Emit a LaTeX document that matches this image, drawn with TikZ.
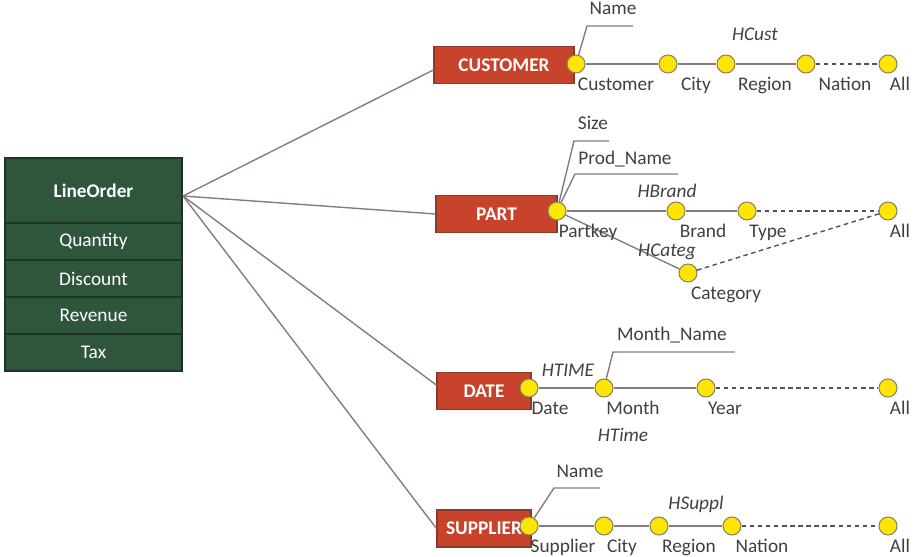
\documentclass[tikz,border=0pt]{standalone}
\usepackage{fontspec}
\setmainfont{Carlito}
\usepackage{tikz}
\usetikzlibrary{positioning}
\usepackage{xcolor}
\definecolor{factgreen}{HTML}{2F553C}
\definecolor{factline}{HTML}{1E3526}
\definecolor{dimred}{HTML}{C8432B}
\definecolor{dimline}{HTML}{8A3A28}
\definecolor{lvlyellow}{HTML}{FFE600}
\definecolor{lvlline}{HTML}{8C8060}
\definecolor{relgray}{HTML}{877C7C}
\definecolor{txtgray}{HTML}{404040}

\begin{document}
\begin{tikzpicture}[x=0.02cm, y=-0.02cm,
    fact/.style={draw=factline, line width=0.8pt, fill=factgreen, text=white,
      minimum width=3.54cm, minimum height=0.74cm, inner sep=0pt,
      font=\fontsize{11}{13}\selectfont},
    dim/.style={draw=dimline, line width=0.6pt, fill=dimred, text=white,
      minimum height=0.74cm, inner sep=0pt,
      font=\fontsize{11}{13}\selectfont\bfseries},
    lvl/.style={circle, draw=lvlline, line width=0.6pt, fill=lvlyellow,
      minimum size=0.36cm, inner sep=0pt},
    lab/.style={anchor=base, text=txtgray, inner sep=0pt,
      font=\fontsize{11}{13}\selectfont},
    hier/.style={lab, font=\fontsize{11}{13}\selectfont\itshape},
    rel/.style={draw=relgray, line width=0.8pt},
    rollup/.style={rel, draw=txtgray!90, dash pattern=on 2.6pt off 2pt}]

        \useasboundingbox (0,0) rectangle (914,557);

        % Fact table (left)
        \node[fact, minimum height=1.3cm, font=\fontsize{11}{13}\selectfont\bfseries] (lo) at (93.5,190.5) {LineOrder};
        \node[fact] (qty) at (93.5,241.5) {Quantity};
        \node[fact] (disc) at (93.5,278.5) {Discount};
        \node[fact] (rev) at (93.5,315.5) {Revenue};
        \node[fact] (tax) at (93.5,352.5) {Tax};
        \coordinate (hub) at (183,196);

        % Dimensions
        \node[dim, minimum width=2.8cm] (cust) at (504,65) {CUSTOMER};
        \node[dim, minimum width=2.42cm] (part) at (496.5,214) {PART};
        \node[dim, minimum width=1.88cm] (date) at (484,391) {DATE};
        \node[dim, minimum width=1.88cm] (supp) at (484,528.5) {SUPPLIER};

        \draw[rel] (hub) -- (cust.184);
        \draw[rel] (hub) -- (part.west);
        \draw[rel] (hub) -- (date.173);
        \draw[rel] (hub) -- (supp.west);


        % Customer hierarchy (top)
        \node[lvl] (cK) at (576,64) {};
        \node[lvl] (cCity) at (668,64) {};
        \node[lvl] (cReg) at (726,64) {};
        \node[lvl] (cNat) at (806,64) {};
        \node[lvl] (cAll) at (888,64) {};

        \draw[rel] (cK) -- (cCity) -- (cReg) -- (cNat);
        \draw[rollup] (cNat) -- (cAll);

        \node[lab] (lcK) at (616,91) {Customer};
        \node[lab] (lcCity) at (696,91) {City};
        \node[lab] (lcReg) at (765,91) {Region};
        \node[lab] (lcNat) at (845,91) {Nation};
        \node[lab] (lcAll) at (900,91) {All};
        \node[hier] (hCust) at (755,41) {HCust};

        \node[lab] (cName) at (613,15) {Name};
        \coordinate (cnA) at (587,26);
        \coordinate (cnB) at (633,26);
        \draw[rel] (cK) -- (cnA) -- (cnB);


        % Part hierarchies
        \node[lvl] (pK) at (557,211) {};
        \node[lvl] (pBrand) at (676,211) {};
        \node[lvl] (pType) at (747,211) {};
        \node[lvl] (pAll) at (888,211) {};
        \node[lvl] (pCat) at (688,273) {};

        \draw[rel] (pK) -- (pBrand) -- (pType);
        \draw[rel] (pK) -- (pCat);
        \draw[rollup] (pType) -- (pAll);
        \draw[rollup] (pCat) -- (pAll);

        \node[lab] (lpK) at (588,238) {Partkey};
        \node[lab] (lpBrand) at (703,238) {Brand};
        \node[lab] (lpType) at (768,238) {Type};
        \node[lab] (lpAll) at (900,238) {All};
        \node[lab] (lpCat) at (726,300) {Category};
        \node[hier] (hBrand) at (667,198) {HBrand};
        \node[hier] (hCateg) at (667,257) {HCateg};

        \node[lab] (pSize) at (593,130) {Size};
        \coordinate (psA) at (574,141);
        \coordinate (psB) at (609,141);
        \draw[rel] (pK) -- (psA) -- (psB);
        \node[lab] (pName) at (625,165) {Prod\_Name};
        \coordinate (pnA) at (575,174);
        \coordinate (pnB) at (678,174);
        \draw[rel] (pK) -- (pnA) -- (pnB);


        % Date hierarchy
        \node[lvl] (dK) at (529,388) {};
        \node[lvl] (dMonth) at (604,388) {};
        \node[lvl] (dYear) at (706,388) {};
        \node[lvl] (dAll) at (888,388) {};

        \draw[rel] (dK) -- (dMonth) -- (dYear);
        \draw[rollup] (dYear) -- (dAll);

        \node[lab] (ldK) at (550,415) {Date};
        \node[lab] (ldMonth) at (633,415) {Month};
        \node[lab] (ldYear) at (725,415) {Year};
        \node[lab] (ldAll) at (900,415) {All};
        \node[hier] (hTIME) at (568,377) {HTIME};
        \node[hier] (hTime) at (623,442) {HTime};

        \node[lab] (dName) at (672,341) {Month\_Name};
        \coordinate (dnA) at (613,352);
        \coordinate (dnB) at (735,352);
        \draw[rel] (dMonth) -- (dnA) -- (dnB);


        % Supplier hierarchy (bottom)
        \node[lvl] (sK) at (529,526) {};
        \node[lvl] (sCity) at (604,526) {};
        \node[lvl] (sReg) at (659,526) {};
        \node[lvl] (sNat) at (732,526) {};
        \node[lvl] (sAll) at (888,526) {};

        \draw[rel] (sK) -- (sCity) -- (sReg) -- (sNat);
        \draw[rollup] (sNat) -- (sAll);

        \node[lab] (lsK) at (563,553) {Supplier};
        \node[lab] (lsCity) at (622,553) {City};
        \node[lab] (lsReg) at (689,553) {Region};
        \node[lab] (lsNat) at (762,553) {Nation};
        \node[lab] (lsAll) at (900,553) {All};
        \node[hier] (hSuppl) at (696,510) {HSuppl};

        \node[lab] (sName) at (580,478) {Name};
        \coordinate (snA) at (554,488);
        \coordinate (snB) at (600,488);
        \draw[rel] (sK) -- (snA) -- (snB);

    \end{tikzpicture}
\end{document}
